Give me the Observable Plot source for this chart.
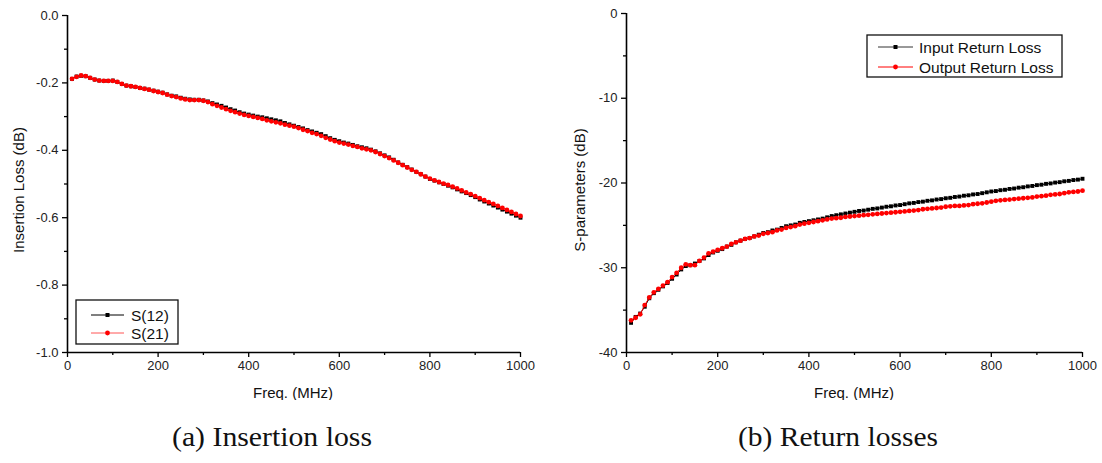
<!DOCTYPE html>
<html>
<head>
<meta charset="utf-8">
<script src="https://cdn.jsdelivr.net/npm/d3@7"></script>
<script src="https://cdn.jsdelivr.net/npm/@observablehq/plot@0.6"></script>
<style>
  html, body { margin: 0; padding: 0; background: #fff; }
  #wrap { position: relative; width: 1102px; height: 463px; background: #fff; overflow: hidden; }
  .panel { position: absolute; top: 0; }
  #caps { position: absolute; left: 0; top: 0; }
</style>
</head>
<body>
<div id="wrap">
  <div id="left" class="panel" style="left:0px"></div>
  <div id="right" class="panel" style="left:551px"></div>
  <svg id="caps" width="1102" height="463"></svg>
</div>
<script>
// ---------- data ----------
const freq = [10,20,30,40,50,60,70,80,90,100,110,120,130,140,150,160,170,180,190,200,
  210,220,230,240,250,260,270,280,290,300,310,320,330,340,350,360,370,380,390,400,
  410,420,430,440,450,460,470,480,490,500,510,520,530,540,550,560,570,580,590,600,
  610,620,630,640,650,660,670,680,690,700,710,720,730,740,750,760,770,780,790,800,
  810,820,830,840,850,860,870,880,890,900,910,920,930,940,950,960,970,980,990,1000];

const s12 = [-0.188,-0.181,-0.179,-0.180,-0.185,-0.190,-0.193,-0.194,-0.194,-0.193,
  -0.197,-0.203,-0.208,-0.210,-0.212,-0.215,-0.217,-0.220,-0.223,-0.226,
  -0.229,-0.234,-0.238,-0.240,-0.244,-0.247,-0.249,-0.250,-0.250,-0.252,
  -0.255,-0.260,-0.264,-0.268,-0.273,-0.278,-0.282,-0.287,-0.291,-0.294,
  -0.297,-0.300,-0.302,-0.305,-0.308,-0.311,-0.314,-0.319,-0.323,-0.327,
  -0.331,-0.335,-0.340,-0.344,-0.348,-0.352,-0.358,-0.364,-0.369,-0.373,
  -0.377,-0.380,-0.384,-0.388,-0.391,-0.394,-0.398,-0.403,-0.409,-0.415,
  -0.421,-0.428,-0.436,-0.443,-0.450,-0.457,-0.464,-0.471,-0.478,-0.485,
  -0.490,-0.495,-0.500,-0.505,-0.510,-0.516,-0.522,-0.527,-0.533,-0.539,
  -0.546,-0.552,-0.558,-0.564,-0.570,-0.576,-0.582,-0.588,-0.594,-0.600];

const s21 = [-0.188,-0.182,-0.178,-0.180,-0.185,-0.190,-0.193,-0.194,-0.194,-0.194,
  -0.197,-0.203,-0.208,-0.210,-0.212,-0.215,-0.218,-0.220,-0.224,-0.227,
  -0.230,-0.235,-0.239,-0.242,-0.246,-0.249,-0.251,-0.251,-0.251,-0.253,
  -0.257,-0.263,-0.268,-0.273,-0.278,-0.283,-0.287,-0.291,-0.295,-0.298,
  -0.301,-0.304,-0.307,-0.311,-0.314,-0.317,-0.320,-0.324,-0.327,-0.330,
  -0.334,-0.339,-0.343,-0.348,-0.352,-0.357,-0.363,-0.368,-0.373,-0.377,
  -0.380,-0.383,-0.387,-0.390,-0.394,-0.397,-0.400,-0.405,-0.411,-0.417,
  -0.423,-0.430,-0.437,-0.444,-0.451,-0.458,-0.464,-0.471,-0.478,-0.484,
  -0.489,-0.494,-0.499,-0.503,-0.508,-0.513,-0.519,-0.525,-0.530,-0.536,
  -0.542,-0.548,-0.554,-0.559,-0.565,-0.571,-0.577,-0.583,-0.589,-0.595];

const inputRL = [-36.5,-35.8,-35.4,-34.6,-33.6,-33.0,-32.6,-32.2,-31.8,-31.3,
  -30.8,-30.2,-29.8,-29.7,-29.5,-29.2,-28.9,-28.5,-28.2,-28.0,
  -27.8,-27.5,-27.3,-27.0,-26.8,-26.6,-26.5,-26.3,-26.1,-25.9,
  -25.8,-25.6,-25.5,-25.3,-25.1,-25.0,-24.9,-24.7,-24.6,-24.5,
  -24.4,-24.3,-24.2,-24.05,-23.9,-23.8,-23.7,-23.6,-23.5,-23.4,
  -23.3,-23.25,-23.15,-23.05,-23.0,-22.9,-22.8,-22.75,-22.65,-22.6,
  -22.5,-22.4,-22.35,-22.25,-22.2,-22.1,-22.05,-21.95,-21.9,-21.8,
  -21.75,-21.65,-21.6,-21.5,-21.45,-21.35,-21.3,-21.2,-21.1,-21.0,
  -20.95,-20.85,-20.8,-20.7,-20.65,-20.55,-20.5,-20.4,-20.35,-20.25,
  -20.2,-20.1,-20.05,-19.95,-19.9,-19.8,-19.75,-19.65,-19.6,-19.5];

const outputRL = [-36.2,-35.9,-35.5,-34.4,-33.5,-32.9,-32.5,-32.1,-31.7,-31.1,
  -30.6,-30.0,-29.6,-29.7,-29.7,-29.2,-28.8,-28.3,-28.1,-27.9,
  -27.7,-27.5,-27.2,-27.0,-26.8,-26.6,-26.5,-26.3,-26.2,-26.0,
  -25.9,-25.8,-25.6,-25.5,-25.3,-25.2,-25.1,-24.9,-24.8,-24.7,
  -24.6,-24.5,-24.4,-24.3,-24.2,-24.15,-24.1,-24.0,-23.95,-23.9,
  -23.85,-23.8,-23.75,-23.7,-23.65,-23.6,-23.55,-23.5,-23.45,-23.4,
  -23.35,-23.3,-23.25,-23.2,-23.1,-23.05,-23.0,-22.95,-22.9,-22.8,
  -22.75,-22.7,-22.7,-22.65,-22.6,-22.5,-22.45,-22.4,-22.3,-22.2,
  -22.1,-22.05,-22.0,-21.95,-21.9,-21.85,-21.8,-21.75,-21.7,-21.6,
  -21.55,-21.5,-21.4,-21.35,-21.3,-21.2,-21.1,-21.05,-21.0,-20.9];

const xMajor = [0, 200, 400, 600, 800, 1000];
const xMinor = [100, 300, 500, 700, 900];
const yMajorIL = [0, -0.2, -0.4, -0.6, -0.8, -1.0];
const yMinorIL = [-0.1, -0.3, -0.5, -0.7, -0.9];
const yMajorRL = [0, -10, -20, -30, -40];
const yMinorRL = [-5, -15, -25, -35];

const legendIL = ["S(12)", "S(21)"];
const legendRL = ["Input Return Loss", "Output Return Loss"];
const captions = ["(a) Insertion loss", "(b) Return losses"];
const xTitle = "Freq. (MHz)";
const yTitles = ["Insertion Loss (dB)", "S-parameters (dB)"];

// ---------- helpers ----------
const FONT = "'Liberation Sans', Arial, sans-serif";
const toRows = (ys) => freq.map((f, i) => ({f, v: ys[i]}));

function panel({ser1, ser2, yDomain, yMajor, yMinor, yFmt, mLeft, mTop, mRight, mBottom}) {
  const d1 = toRows(ser1), d2 = toRows(ser2);
  return Plot.plot({
    width: 551, height: 400,
    marginLeft: mLeft, marginTop: mTop, marginRight: mRight, marginBottom: mBottom,
    style: {fontFamily: FONT, fontSize: "13px", color: "#000", background: "transparent"},
    x: {domain: [0, 1000], label: null},
    y: {domain: yDomain, label: null},
    marks: [
      Plot.axisX({ticks: xMajor, tickSize: 5, tickPadding: 3, tickFormat: d => String(d), stroke: "#000", strokeWidth: 1.3, fill: "#222", fontSize: 13}),
      Plot.axisX({ticks: xMinor, tickSize: 3, tickFormat: () => "", stroke: "#000", strokeWidth: 1.3}),
      Plot.axisY({ticks: yMajor, tickSize: 5, tickPadding: 4, tickFormat: yFmt, stroke: "#000", strokeWidth: 1.3, fill: "#222", fontSize: 13}),
      Plot.axisY({ticks: yMinor, tickSize: 3, tickFormat: () => "", stroke: "#000", strokeWidth: 1.3}),
      Plot.ruleY([yDomain[0]], {stroke: "#000", strokeWidth: 1.6}),
      Plot.ruleX([0], {stroke: "#000", strokeWidth: 1.6}),
      Plot.line(d1, {x: "f", y: "v", stroke: "#000", strokeWidth: 1}),
      Plot.dot(d1, {x: "f", y: "v", symbol: "square", r: 2.2, fill: "#000", stroke: "none"}),
      Plot.line(d2, {x: "f", y: "v", stroke: "#ff0000", strokeWidth: 1}),
      Plot.dot(d2, {x: "f", y: "v", symbol: "circle", r: 2.4, fill: "#ff0000", stroke: "none"})
    ]
  });
}

function addText(svg, txt, x, y, opts = {}) {
  const t = svg.append("text").attr("x", x).attr("y", y).text(txt)
    .attr("font-family", FONT).attr("font-size", opts.size || 15)
    .attr("fill", opts.fill || "#111").attr("text-anchor", opts.anchor || "middle");
  if (opts.rotate) t.attr("transform", `rotate(-90 ${x} ${y})`);
  return t;
}

function addLegend(svg, labels, box, rowYs, lineX0, lineX1, textX, lineColors) {
  svg.append("rect").attr("x", box[0]).attr("y", box[1]).attr("width", box[2]).attr("height", box[3])
    .attr("fill", "#fff").attr("stroke", "#111").attr("stroke-width", 1.3);
  labels.forEach((lab, i) => {
    const y = rowYs[i];
    svg.append("line").attr("x1", lineX0).attr("x2", lineX1).attr("y1", y).attr("y2", y)
      .attr("stroke", lineColors[i]).attr("stroke-width", 1);
    const cx = (lineX0 + lineX1) / 2;
    if (i === 0) svg.append("rect").attr("x", cx - 2).attr("y", y - 2).attr("width", 4).attr("height", 4).attr("fill", "#000");
    else svg.append("circle").attr("cx", cx).attr("cy", y).attr("r", 2.4).attr("fill", "#ff0000");
    addText(svg, lab, textX, y + 5.5, {size: 15.5, anchor: "start"});
  });
}

// ---------- left panel ----------
const left = panel({ser1: s12, ser2: s21, yDomain: [-1, 0], yMajor: yMajorIL, yMinor: yMinorIL,
  yFmt: d => d.toFixed(1), mLeft: 67, mTop: 15, mRight: 31, mBottom: 48});
document.getElementById("left").appendChild(left);
const ls = d3.select(left);
addText(ls, xTitle, 293, 398, {size: 15});
addText(ls, yTitles[0], 24, 190, {size: 15, rotate: true});
addLegend(ls, legendIL, [76, 300, 102, 44], [315, 333], 91, 124, 131, ["#000", "#ff5555"]);

// ---------- right panel ----------
const right = panel({ser1: inputRL, ser2: outputRL, yDomain: [-40, 0], yMajor: yMajorRL, yMinor: yMinorRL,
  yFmt: d => String(d), mLeft: 75, mTop: 13, mRight: 20, mBottom: 48});
document.getElementById("right").appendChild(right);
const rs = d3.select(right);
addText(rs, xTitle, 303, 398, {size: 15});
addText(rs, yTitles[1], 34, 190, {size: 15, rotate: true});
addLegend(rs, legendRL, [316, 35, 195, 42], [47, 67], 327, 362, 368, ["#333", "#ff0000"]);

// ---------- captions ----------
const caps = d3.select("#caps");
[[272, captions[0]], [838, captions[1]]].forEach(([cx, txt]) => {
  caps.append("text").attr("x", cx).attr("y", 446).text(txt)
    .attr("font-family", "'Liberation Serif', 'DejaVu Serif', serif").attr("font-size", 27)
    .attr("fill", "#111").attr("text-anchor", "middle")
    .attr("textLength", 200).attr("lengthAdjust", "spacingAndGlyphs");
});
</script>
</body>
</html>
